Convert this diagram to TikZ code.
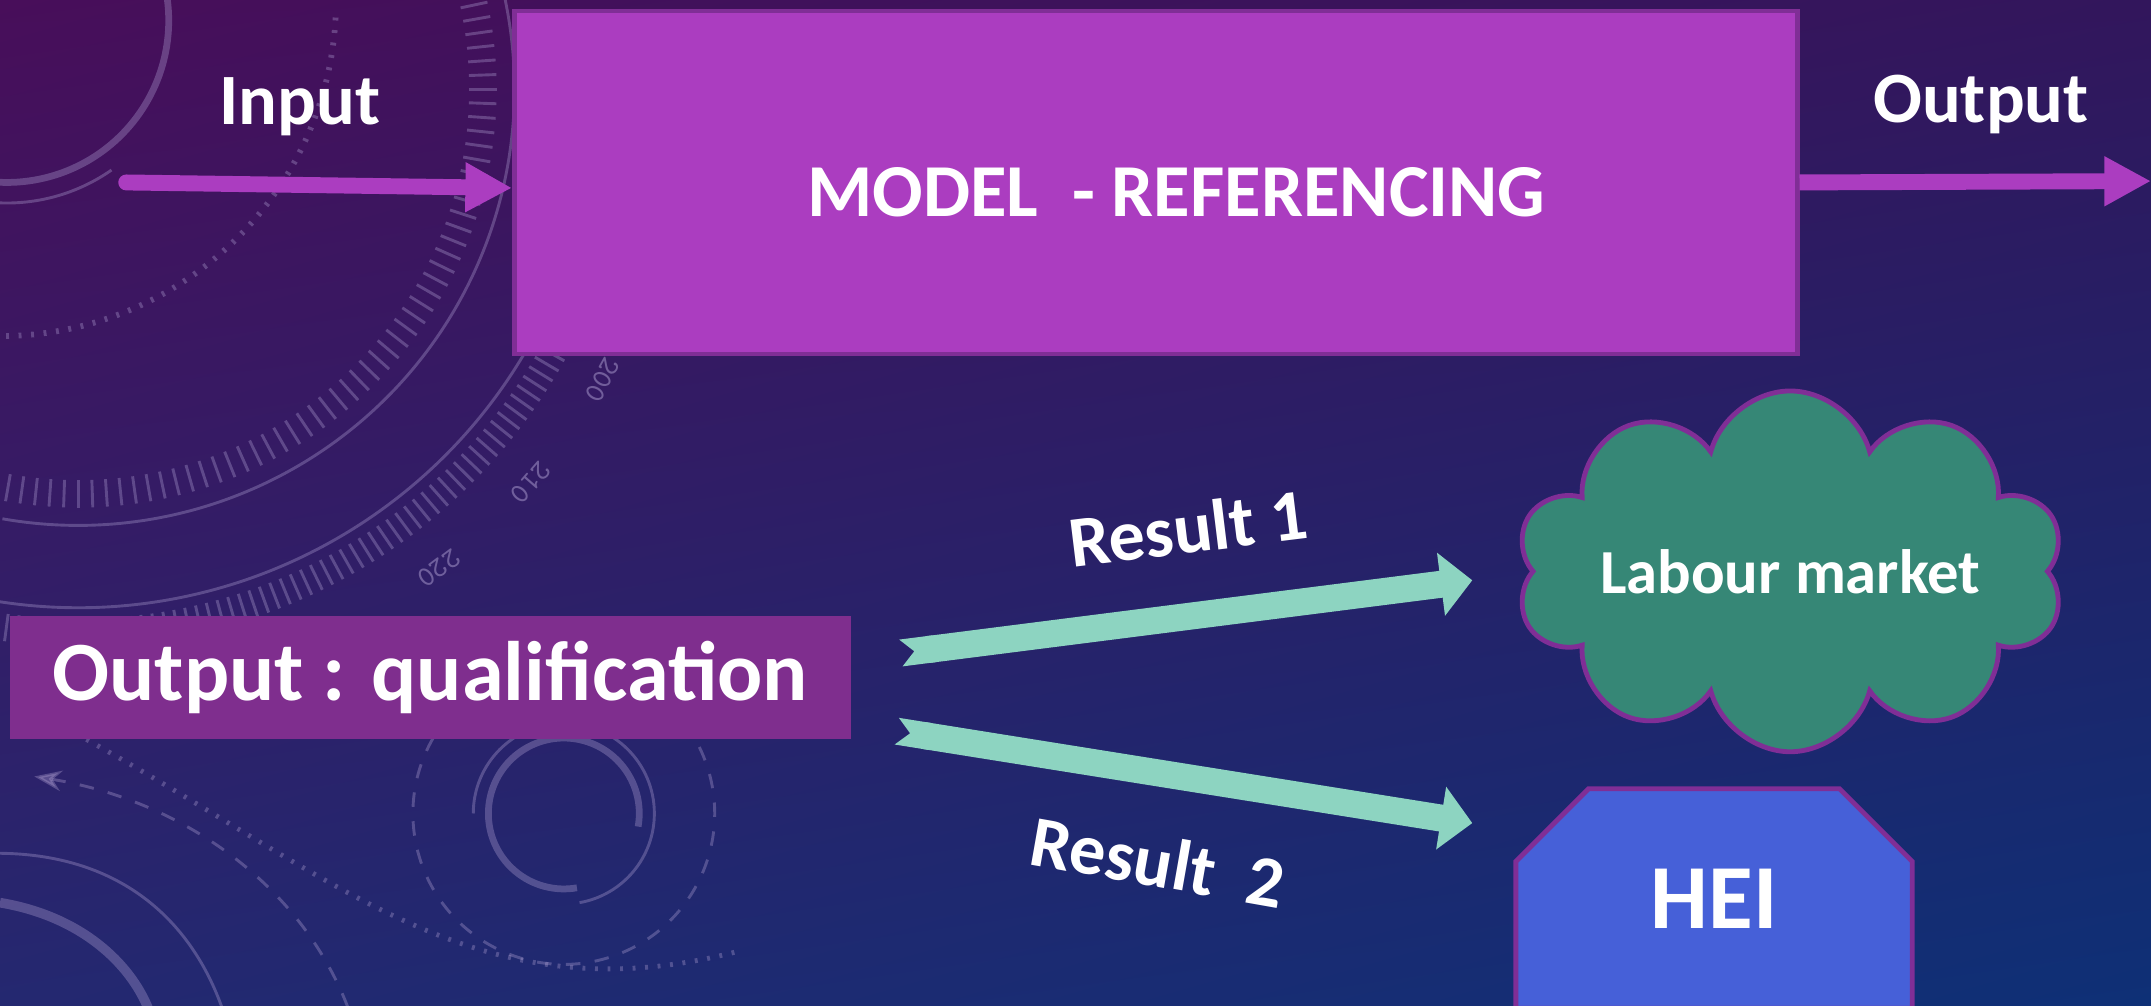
\documentclass[tikz,border=0pt]{standalone}
\usepackage{fontspec}
\setmainfont{Carlito}
\usepackage{tikz}
\usetikzlibrary{arrows.meta,shapes.symbols,shapes.misc,shadings}
\definecolor{bgtl}{RGB}{72,14,90}
\definecolor{bgtr}{RGB}{50,22,92}
\definecolor{bgbl}{RGB}{36,40,112}
\definecolor{bgbr}{RGB}{14,48,118}
\definecolor{modelpink}{RGB}{171,61,192}
\definecolor{modelrim}{RGB}{128,46,150}
\definecolor{qualpurple}{RGB}{127,46,142}
\definecolor{cloudgreen}{RGB}{54,135,118}
\definecolor{heiblue}{RGB}{70,96,216}
\definecolor{mint}{RGB}{141,212,193}
\definecolor{decogrey}{RGB}{175,160,210}

\begin{document}
\begin{tikzpicture}
    \tikzset{box/.style = {draw=modelrim, line width=1pt, text=white}}
    \tikzset{flow/.style = {-{Triangle[length=3.4mm,width=3.4mm]}, line width=3.3pt, draw=modelpink}}
    \tikzset{result/.style = {{Triangle Cap[reversed]}-{Triangle[length=2.3mm,width=4.5mm]}, line width=5.6pt, draw=mint}}
    \tikzset{lbl/.style = {text=white, font=\bfseries\fontsize{15}{18}\selectfont}}
    \tikzset{deco/.style = {draw=decogrey, opacity=0.35, line width=0.6pt}}
    \useasboundingbox (0,0) rectangle (15.68,7.33);
    \clip (0,0) rectangle (15.68,7.33);
    % background
    \shade[upper left=bgtl, upper right=bgtr, lower left=bgbl, lower right=bgbr] (0,0) rectangle (15.68,7.33);
    \draw[deco, line width=1.4pt] (0.05,7.18) ++(10:1.18) arc[start angle=10, end angle=-95, radius=1.18];
    \draw[deco] (0.05,7.18) ++(-55:1.33) arc[start angle=-55, end angle=-95, radius=1.33];
    \draw[deco, dotted, line width=1.2pt] (0,7.33) ++(-3:2.45) arc[start angle=-3, end angle=-90, radius=2.45];
    \draw[deco] (0.57,6.68) ++(15:3.18) arc[start angle=15, end angle=-100, radius=3.18];
    \draw[deco] (0.57,6.68) ++(-25:3.78) arc[start angle=-25, end angle=-100, radius=3.78];
    \foreach \a in {12,10,...,-100} \draw[deco] (0.57,6.68) ++(\a:2.85) -- ++(\a:0.2);
    \foreach \a in {-16,-17.2,...,-100} \draw[deco] (0.57,6.68) ++(\a:3.86) -- ++(\a:0.2);
    \foreach \n/\a in {200/-29,210/-41,220/-53}
        \node[text=decogrey, opacity=0.5, inner sep=0pt, font=\ttfamily\fontsize{6}{7}\selectfont, rotate=\a-90] (deg\n) at ([shift={(\a:4.37)}]0.57,6.68) {\n};
    \draw[deco, line width=1.4pt] (4.11,1.40) ++(-10:0.55) arc[start angle=-10, end angle=280, radius=0.55];
    \draw[deco] (4.11,1.40) ++(180:0.66) arc[start angle=180, end angle=-80, radius=0.66];
    \draw[deco, dashed] (4.11,1.40) ++(150:1.1) arc[start angle=150, end angle=390, radius=1.1];
    \draw[deco, dashed, {Stealth[length=2mm]}-] (0.25,1.67) .. controls (1.3,1.5) and (2.2,0.9) .. (2.55,-0.05);
    \draw[deco, dotted, line width=1pt] (0.63,1.94) .. controls (2.5,0.9) and (3.5,-0.1) .. (5.4,0.4);
    \draw[deco] (0,1.11) .. controls (0.9,1.1) and (1.4,0.6) .. (1.62,-0.02);
    \draw[deco, line width=2pt] (0,0.75) .. controls (0.6,0.65) and (0.95,0.3) .. (1.08,-0.02);
    % nodes
    \node[box, fill=modelpink, minimum width=9.35cm, minimum height=2.5cm, text height=4.9mm, text depth=0pt, font=\bfseries\fontsize{15.5}{18}\selectfont] (model) at (8.425,6.0) {\hspace*{3mm}MODEL\ \ - REFERENCING};
    \node[lbl, anchor=base] (inlbl) at (2.185,6.42) {Input};
    \node[lbl, anchor=base] (outlbl) at (14.44,6.44) {Output};
    \node[fill=qualpurple, text=white, minimum width=6.13cm, minimum height=0.9cm, font=\bfseries\fontsize{17.5}{21}\selectfont] (qual) at (3.135,2.39) {Output : qualification};
    \node[box, cloud, cloud puffs=10, aspect=1.5, inner sep=0pt, fill=cloudgreen, minimum width=4cm, minimum height=2.63cm, font=\bfseries\fontsize{13}{16}\selectfont] (labour) at (13.05,3.165) {\makebox[0pt]{Labour market}};
    \node[box, chamfered rectangle, chamfered rectangle corners={north west,north east}, chamfered rectangle xsep=2.7mm, chamfered rectangle ysep=2.6mm, fill=heiblue, minimum width=2.89cm, minimum height=1.6cm, font=\bfseries\fontsize{19}{23}\selectfont] (hei) at (12.495,0.78) {HEI};
    % edges
    \coordinate (in) at (0.92,6.0);
    \coordinate (out) at (15.68,6.01);
    \draw[flow, line cap=round] (in) -- ([yshift=-0.4mm]model.west);
    \draw[flow] (model.east) -- (out);
    \draw[result] ([shift={(0.36,0.18)}]qual.east) -- ([shift={(-0.42,-0.065)}]labour.west);
    \draw[result] ([shift={(0.33,-0.39)}]qual.east) -- ([shift={(-0.30,0.55)}]hei.west);
    \node[lbl, rotate=7] (res1) at (8.66,3.48) {Result 1};
    \node[lbl, rotate=-10] (res2) at (8.44,1.05) {Result\ \ 2};
\end{tikzpicture}
\end{document}
